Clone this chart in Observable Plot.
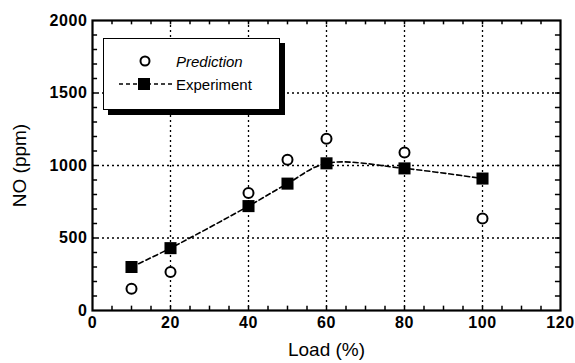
<!DOCTYPE html>
<html><head><meta charset="utf-8">
<script src="https://cdn.jsdelivr.net/npm/d3@7"></script>
<script src="https://cdn.jsdelivr.net/npm/@observablehq/plot@0.6"></script>
<style>
body{margin:0;background:#fff;font-family:"Liberation Sans",Arial,sans-serif;}
#wrap{position:relative;width:575px;height:363px;}
#legend{position:absolute;left:103px;top:38px;width:175px;height:70px;border:1.5px solid #000;background:#fff;box-shadow:5px 5px 0 #000;font-size:15px;}
#legend .row{position:absolute;left:0;display:flex;align-items:center;}
</style></head>
<body><div id="wrap"></div>
<script>
const loads = [10, 20, 40, 50, 60, 80, 100];
const prediction = [150, 265, 810, 1040, 1185, 1090, 635];
const experiment = [300, 430, 720, 875, 1015, 980, 910];
const xTicks = [0, 20, 40, 60, 80, 100, 120];
const yTicks = [0, 500, 1000, 1500, 2000];
const xGrid = [20, 40, 60, 80, 100];
const yGrid = [500, 1000, 1500];
const xMinor = d3.range(5, 120, 5);
const yMinor = d3.range(100, 2000, 100);

const pred = loads.map((x, i) => ({x, y: prediction[i]}));
const expt = loads.map((x, i) => ({x, y: experiment[i]}));

const chart = Plot.plot({
  width: 575, height: 363,
  marginLeft: 92, marginRight: 15, marginTop: 20, marginBottom: 53,
  style: {fontFamily: "Liberation Sans, Arial, sans-serif", background: "#fff", color: "#000"},
  x: {domain: [0, 120]},
  y: {domain: [0, 2000]},
  marks: [
    Plot.ruleX(xGrid, {stroke: "#000", strokeWidth: 1.3, strokeDasharray: "2,3"}),
    Plot.ruleY(yGrid, {stroke: "#000", strokeWidth: 1.3, strokeDasharray: "2,3"}),
    Plot.ruleX(xMinor, {y1: 0, y2: 30, stroke: "#000", strokeWidth: 1.5}),
    Plot.ruleX(xMinor, {y1: 1970, y2: 2000, stroke: "#000", strokeWidth: 1.5}),
    Plot.ruleY(yMinor, {x1: 0, x2: 1.3, stroke: "#000", strokeWidth: 1.5}),
    Plot.ruleY(yMinor, {x1: 118.7, x2: 120, stroke: "#000", strokeWidth: 1.5}),
    Plot.frame({stroke: "#000", strokeWidth: 2.2}),
    Plot.axisX({ticks: xTicks, tickFormat: d => String(d), tickSize: 0, tickPadding: 6, fontSize: 16, fontWeight: "bold",
      label: "Load (%)", labelAnchor: "center", labelArrow: "none", labelOffset: 45}),
    Plot.axisY({ticks: yTicks, tickFormat: d => String(d), tickSize: 0, tickPadding: 5, fontSize: 16, fontWeight: "bold",
      label: "NO (ppm)", labelAnchor: "center", labelArrow: "none", labelOffset: 80}),
    Plot.line(expt, {x: "x", y: "y", curve: "catmull-rom", stroke: "#000", strokeWidth: 1.6, strokeDasharray: "5,3"}),
    Plot.dot(expt, {x: "x", y: "y", symbol: "square", r: 6.8, fill: "#000", stroke: "none"}),
    Plot.dot(pred, {x: "x", y: "y", symbol: "circle", r: 5, fill: "#fff", stroke: "#000", strokeWidth: 2})
  ]
});
chart.querySelectorAll("g[aria-label='x-axis tick label'] text, g[aria-label='y-axis tick label'] text").forEach(t => {
  t.setAttribute("letter-spacing", "0.6");
});
chart.querySelectorAll("g[aria-label='x-axis label'] text, g[aria-label='y-axis label'] text").forEach(t => {
  t.setAttribute("font-size", "19"); t.setAttribute("font-weight", "normal");
});
const wrap = document.getElementById("wrap");
wrap.appendChild(chart);
const lg = document.createElement("div");
lg.id = "legend";
lg.innerHTML = `
<div class="row" style="top:13px;">
  <svg width="72" height="18"><circle cx="41" cy="9" r="4.5" fill="#fff" stroke="#000" stroke-width="2"/></svg>
  <span style="font-style:italic;">Prediction</span></div>
<div class="row" style="top:36px;">
  <svg width="72" height="18"><line x1="15" x2="68" y1="9" y2="9" stroke="#000" stroke-width="1.6" stroke-dasharray="4,3"/><rect x="34" y="3" width="12" height="12" fill="#000"/></svg>
  <span>Experiment</span></div>`;
wrap.appendChild(lg);
</script></body></html>
